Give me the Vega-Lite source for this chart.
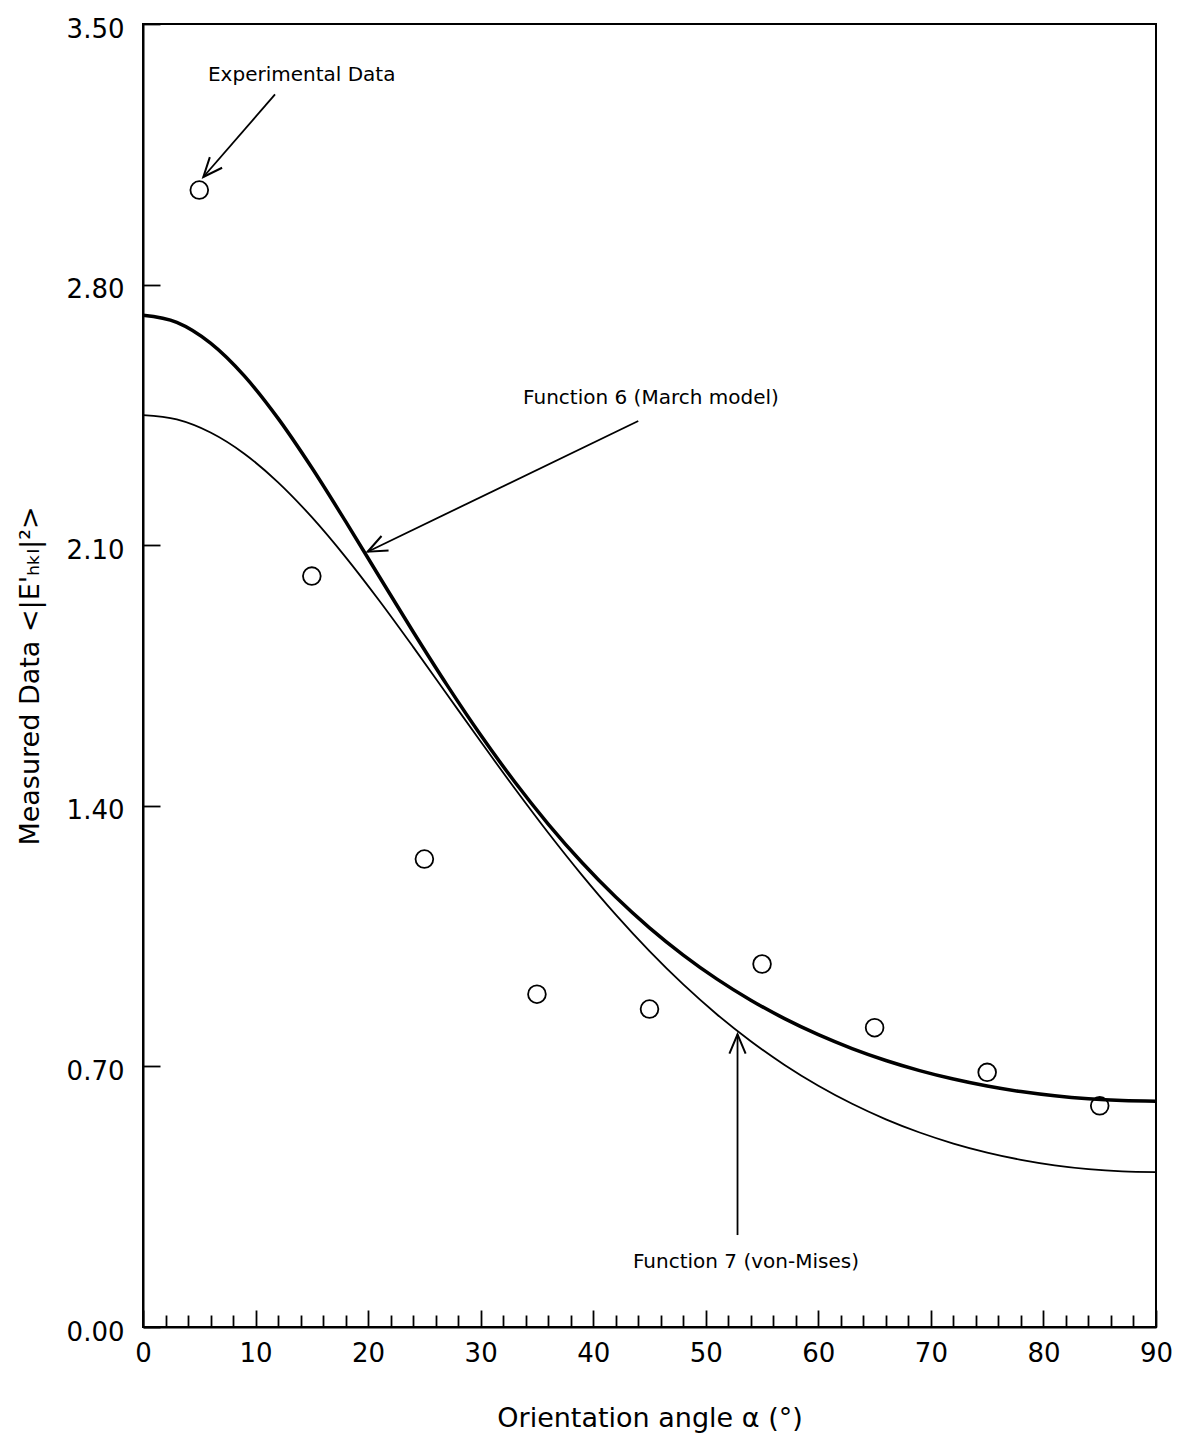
{
  "$schema": "https://vega.github.io/schema/vega-lite/v6.json",
  "width": 1013,
  "height": 1303,
  "autosize": "none",
  "padding": {"left": 143, "top": 24, "right": 22, "bottom": 111},
  "background": "white",
  "config": {
    "font": "DejaVu Sans",
    "view": {"stroke": "black", "strokeWidth": 2},
    "axis": {
      "domainColor": "black", "domainWidth": 2,
      "tickColor": "black", "tickWidth": 1.8,
      "labelColor": "black", "titleColor": "black",
      "grid": false,
      "labelFont": "DejaVu Sans", "titleFont": "DejaVu Sans",
      "labelFontSize": 25, "titleFontSize": 26, "titleFontWeight": "normal"
    }
  },
  "datasets": {
    "march": [
      {"a": 0, "v": 2.7174}, {"a": 3, "v": 2.6984}, {"a": 6, "v": 2.6427}, {"a": 9, "v": 2.5547},
      {"a": 12, "v": 2.4406}, {"a": 15, "v": 2.3079}, {"a": 18, "v": 2.1638}, {"a": 21, "v": 2.0153},
      {"a": 24, "v": 1.8675}, {"a": 27, "v": 1.7248}, {"a": 30, "v": 1.5901}, {"a": 33, "v": 1.4653},
      {"a": 36, "v": 1.3511}, {"a": 39, "v": 1.2478}, {"a": 42, "v": 1.155}, {"a": 45, "v": 1.0723},
      {"a": 48, "v": 0.9991}, {"a": 51, "v": 0.9345}, {"a": 54, "v": 0.8778}, {"a": 57, "v": 0.8282},
      {"a": 60, "v": 0.7851}, {"a": 63, "v": 0.7479}, {"a": 66, "v": 0.7159}, {"a": 69, "v": 0.6888},
      {"a": 72, "v": 0.666}, {"a": 75, "v": 0.6473}, {"a": 78, "v": 0.6323}, {"a": 81, "v": 0.6209},
      {"a": 84, "v": 0.6129}, {"a": 87, "v": 0.6082}, {"a": 90, "v": 0.6066}
    ],
    "vonmises": [
      {"a": 0, "v": 2.4496}, {"a": 3, "v": 2.4378}, {"a": 6, "v": 2.4026}, {"a": 9, "v": 2.3457},
      {"a": 12, "v": 2.2689}, {"a": 15, "v": 2.1753}, {"a": 18, "v": 2.0681}, {"a": 21, "v": 1.9508},
      {"a": 24, "v": 1.8269}, {"a": 27, "v": 1.6998}, {"a": 30, "v": 1.5725}, {"a": 33, "v": 1.4478},
      {"a": 36, "v": 1.3276}, {"a": 39, "v": 1.2138}, {"a": 42, "v": 1.1075}, {"a": 45, "v": 1.0095},
      {"a": 48, "v": 0.9201}, {"a": 51, "v": 0.8395}, {"a": 54, "v": 0.7676}, {"a": 57, "v": 0.7039},
      {"a": 60, "v": 0.648}, {"a": 63, "v": 0.5995}, {"a": 66, "v": 0.5578}, {"a": 69, "v": 0.5224},
      {"a": 72, "v": 0.4928}, {"a": 75, "v": 0.4685}, {"a": 78, "v": 0.4491}, {"a": 81, "v": 0.4344},
      {"a": 84, "v": 0.4241}, {"a": 87, "v": 0.418}, {"a": 90, "v": 0.416}
    ],
    "measured": [
      {"a": 5, "v": 3.054}, {"a": 15, "v": 2.017}, {"a": 25, "v": 1.257}, {"a": 35, "v": 0.894},
      {"a": 45, "v": 0.854}, {"a": 55, "v": 0.975}, {"a": 65, "v": 0.804}, {"a": 75, "v": 0.684},
      {"a": 85, "v": 0.594}
    ],
    "arrows": [
      {"id": "exp", "x": 11.73, "y": 3.311, "x2": 5.36, "y2": 3.089},
      {"id": "f6", "x": 44.0, "y": 2.4335, "x2": 19.96, "y2": 2.0825},
      {"id": "f7", "x": 52.82, "y": 0.247, "x2": 52.82, "y2": 0.786}
    ],
    "notes": [
      {"text": "Experimental Data", "x": 14.1, "y": 3.363},
      {"text": "Function 6 (March model)", "x": 45.13, "y": 2.495},
      {"text": "Function 7 (von-Mises)", "x": 53.57, "y": 0.175}
    ]
  },
  "layer": [
    {
      "data": {"name": "march"},
      "mark": {"type": "line", "color": "black", "strokeWidth": 3.5, "interpolate": "monotone"},
      "encoding": {
        "x": {
          "field": "a", "type": "quantitative",
          "scale": {"domain": [0, 90], "nice": false},
          "axis": {
            "title": "Orientation angle α (°)",
            "values": [0,2,4,6,8,10,12,14,16,18,20,22,24,26,28,30,32,34,36,38,40,42,44,46,48,50,52,54,56,58,60,62,64,66,68,70,72,74,76,78,80,82,84,86,88,90],
            "tickCount": 200,
            "labelExpr": "datum.value % 10 === 0 ? datum.value : ''",
            "tickSize": {"condition": {"test": "datum.value % 10 === 0", "value": -17}, "value": -12},
            "labelPadding": 30,
            "labelFlush": false,
            "labelOverlap": false,
            "labelFontSize": 26,
            "titleFontSize": 27,
            "titlePadding": 34
          }
        },
        "y": {
          "field": "v", "type": "quantitative",
          "scale": {"domain": [0, 3.5], "nice": false},
          "axis": {
            "title": "Measured Data <|E'ₕₖₗ|²>",
            "values": [0, 0.7, 1.4, 2.1, 2.8, 3.5],
            "tickCount": 20,
            "format": ".2f",
            "tickSize": -17,
            "labelPadding": 36,
            "labelOffset": 5,
            "labelFontSize": 26,
            "titleFontSize": 27,
            "titlePadding": 22
          }
        }
      }
    },
    {
      "data": {"name": "vonmises"},
      "mark": {"type": "line", "color": "black", "strokeWidth": 1.8, "interpolate": "monotone"},
      "encoding": {
        "x": {"field": "a", "type": "quantitative"},
        "y": {"field": "v", "type": "quantitative"}
      }
    },
    {
      "data": {"name": "measured"},
      "mark": {"type": "point", "shape": "circle", "filled": false, "size": 314, "color": "black", "strokeWidth": 1.8, "opacity": 1},
      "encoding": {
        "x": {"field": "a", "type": "quantitative"},
        "y": {"field": "v", "type": "quantitative"}
      }
    },
    {
      "data": {"name": "arrows"},
      "mark": {"type": "rule", "color": "black", "strokeWidth": 1.8},
      "encoding": {
        "x": {"field": "x", "type": "quantitative"},
        "y": {"field": "y", "type": "quantitative"},
        "x2": {"field": "x2"},
        "y2": {"field": "y2"}
      }
    },
    {
      "data": {"name": "arrows"},
      "transform": [{"filter": "datum.id === 'exp'"}],
      "mark": {"type": "point", "shape": "M -1 -0.42 L 0 0 L -1 0.42", "filled": false, "size": 1490, "angle": 130.9, "color": "black", "strokeWidth": 2, "opacity": 1},
      "encoding": {
        "x": {"field": "x2", "type": "quantitative"},
        "y": {"field": "y2", "type": "quantitative"}
      }
    },
    {
      "data": {"name": "arrows"},
      "transform": [{"filter": "datum.id === 'f6'"}],
      "mark": {"type": "point", "shape": "M -1 -0.42 L 0 0 L -1 0.42", "filled": false, "size": 1490, "angle": 154.2, "color": "black", "strokeWidth": 2, "opacity": 1},
      "encoding": {
        "x": {"field": "x2", "type": "quantitative"},
        "y": {"field": "y2", "type": "quantitative"}
      }
    },
    {
      "data": {"name": "arrows"},
      "transform": [{"filter": "datum.id === 'f7'"}],
      "mark": {"type": "point", "shape": "M -1 -0.42 L 0 0 L -1 0.42", "filled": false, "size": 1490, "angle": 270, "color": "black", "strokeWidth": 2, "opacity": 1},
      "encoding": {
        "x": {"field": "x2", "type": "quantitative"},
        "y": {"field": "y2", "type": "quantitative"}
      }
    },
    {
      "data": {"name": "notes"},
      "mark": {"type": "text", "color": "black", "font": "DejaVu Sans", "fontSize": 20, "align": "center", "baseline": "middle"},
      "encoding": {
        "x": {"field": "x", "type": "quantitative"},
        "y": {"field": "y", "type": "quantitative"},
        "text": {"field": "text"}
      }
    }
  ]
}
